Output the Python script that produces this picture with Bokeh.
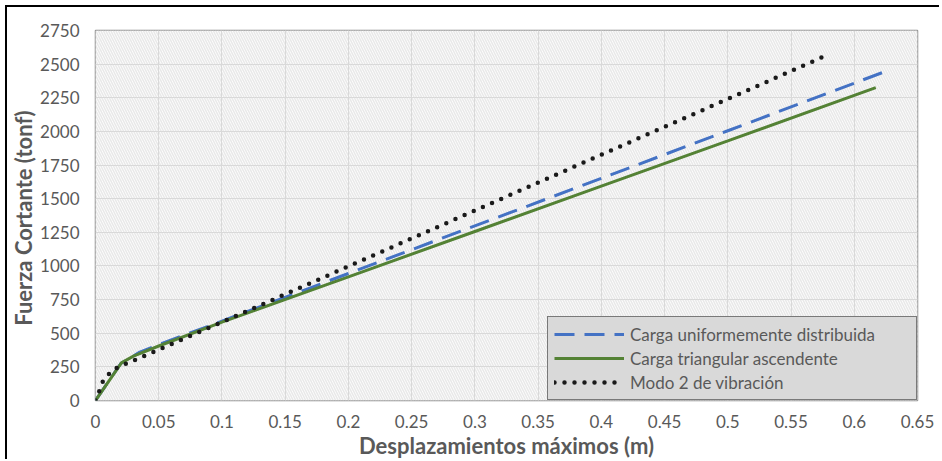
from bokeh.plotting import figure
from bokeh.models import (Range1d, FixedTicker, CustomJSTickFormatter, BoxAnnotation,
                          Legend, LegendItem)
from bokeh.embed import file_html
from bokeh.resources import INLINE

# ---- data ----
x_uniforme = [0, 0.02, 0.035, 0.05, 0.1, 0.2, 0.3, 0.4, 0.5, 0.623]
y_uniforme = [0, 275, 360, 415, 590, 944, 1298, 1651, 2005, 2440]

x_triangular = [0, 0.0205, 0.03, 0.05, 0.1, 0.2, 0.3, 0.4, 0.5, 0.617]
y_triangular = [0, 280, 330, 405, 582, 919, 1256, 1593, 1930, 2325]

x_modo2 = [0, 0.003, 0.0055, 0.01, 0.015, 0.022, 0.029, 0.1, 0.2, 0.3, 0.4, 0.5, 0.578]
y_modo2 = [0, 70, 136, 191, 235, 265, 292, 582, 997, 1412, 1827, 2241, 2565]

labels = ["Carga uniformemente distribuida", "Carga triangular ascendente", "Modo 2 de vibración"]

x_ticks = [0, 0.05, 0.1, 0.15, 0.2, 0.25, 0.3, 0.35, 0.4, 0.45, 0.5, 0.55, 0.6, 0.65]
y_ticks = [0, 250, 500, 750, 1000, 1250, 1500, 1750, 2000, 2250, 2500, 2750]

FONT = "Lato"
TXT = "#595959"

p = figure(width=934, height=454, output_backend="svg", toolbar_location=None,
           x_range=Range1d(0, 0.65), y_range=Range1d(0, 2750),
           min_border_left=87, min_border_right=24, min_border_top=23, min_border_bottom=61)
p.styles = {"border-top": "2px solid #000", "border-left": "2px solid #000",
            "margin-top": "5px", "margin-left": "5px"}

p.background_fill_color = "white"
p.border_fill_color = "white"
p.outline_line_color = "#8c8c8c"
p.outline_line_width = 1.5

# hatched plot area
bg = BoxAnnotation(fill_color="white", fill_alpha=1, line_color=None,
                   hatch_pattern="left_diagonal_line", hatch_color="#e9e9e9",
                   hatch_scale=5, hatch_weight=1.6, level="image")
p.add_layout(bg)

for g in (p.xgrid, p.ygrid):
    g.grid_line_color = "#d9d9d9"
    g.grid_line_width = 1

p.xaxis.ticker = FixedTicker(ticks=x_ticks)
p.yaxis.ticker = FixedTicker(ticks=y_ticks)
p.xaxis.formatter = CustomJSTickFormatter(code="""
    let s = tick.toFixed(2);
    s = s.replace(/0+$/, '').replace(/\\.$/, '');
    return s;
""")

for ax in (p.xaxis, p.yaxis):
    ax.axis_line_color = None
    ax.major_tick_line_color = None
    ax.minor_tick_line_color = None
    ax.major_label_text_font = FONT
    ax.major_label_text_font_size = "17px"
    ax.major_label_text_color = TXT
    ax.axis_label_text_font = FONT
    ax.axis_label_text_font_style = "bold"
    ax.axis_label_text_font_size = "22px"
    ax.axis_label_text_color = TXT

p.xaxis.axis_label = "Desplazamientos máximos (m)"
p.yaxis.axis_label = "Fuerza Cortante  (tonf)"
p.xaxis.major_label_standoff = 8
p.yaxis.major_label_standoff = 10
p.xaxis.axis_label_standoff = 1
p.yaxis.axis_label_standoff = 0

r1 = p.line(x_uniforme, y_uniforme, line_color="#4472c4", line_width=3, line_dash="20 10")
r2 = p.line(x_triangular, y_triangular, line_color="#548235", line_width=3)
r3 = p.line(x_modo2, y_modo2, line_color="#1a1a1a", line_width=4.5, line_dash="0 10",
            line_cap="round")

legend = Legend(items=[LegendItem(label=labels[0], renderers=[r1]),
                       LegendItem(label=labels[1], renderers=[r2]),
                       LegendItem(label=labels[2], renderers=[r3])],
                location="bottom_right", margin=0, padding=6, spacing=2,
                glyph_width=70, glyph_height=22, label_height=22, label_width=280,
                label_standoff=6,
                background_fill_color="#d9d9d9", background_fill_alpha=1,
                border_line_color="#1a1a1a", border_line_width=1.5,
                label_text_font=FONT, label_text_font_size="17px", label_text_color=TXT)
p.add_layout(legend)

open("out.html", "w").write(file_html(p, INLINE))
